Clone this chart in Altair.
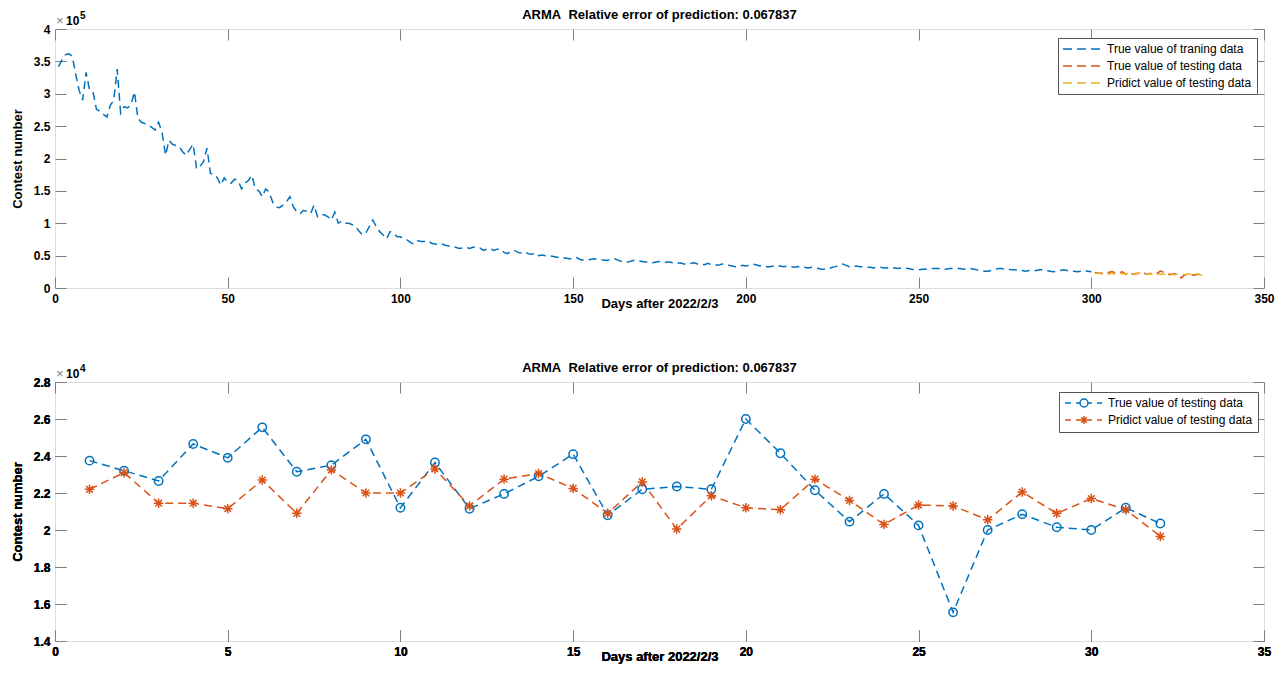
import altair as alt
import pandas as pd

# ---------------- data ----------------
SER_TRAIN = "True value of traning data"
SER_TEST = "True value of testing data"
SER_PRED = "Pridict value of testing data"

train_days = list(range(1, 301))
train_vals = [
    342000, 352000, 360000, 362000, 358000, 330000, 305000, 290000, 333000, 306000,
    303000, 276000, 273000, 268000, 264000, 282000, 290000, 338000, 270000, 280000,
    278000, 283000, 303000, 262000, 256000, 254000, 252000, 248000, 244000, 256000,
    240000, 205000, 228000, 222000, 220000, 218000, 210000, 205000, 214000, 222000,
    184000, 188000, 195000, 216000, 177000, 176000, 170000, 159000, 170000, 163000,
    162000, 168000, 166000, 153000, 162000, 166000, 174000, 153000, 150000, 141000,
    153000, 148000, 133000, 125000, 124000, 128000, 133000, 141000, 125000, 118000,
    115000, 120000, 118000, 115000, 128000, 110000, 113000, 113000, 110000, 105000,
    117000, 100000, 103000, 100000, 100000, 98000, 95000, 88000, 82000, 85000,
    95000, 105000, 95000, 87000, 82000, 76000, 87000, 85000, 79000, 79000,
    76000, 74000, 70000, 68000, 73000, 72000, 72000, 73000, 69000, 68000,
    67000, 68000, 66000, 65000, 64000, 63000, 61000, 62000, 63000, 61000,
    63000, 63000, 62000, 58000, 60000, 61000, 58000, 60000, 60000, 55000,
    53000, 57000, 58000, 55000, 54000, 56000, 53000, 52000, 54000, 50000,
    51000, 50000, 50000, 49000, 48000, 47000, 47000, 46000, 45000, 45000,
    47000, 44000, 43000, 43000, 44000, 45000, 44000, 44000, 43000, 43000,
    44000, 45000, 43000, 41000, 40000, 40000, 42000, 43000, 42000, 41000,
    40000, 40000, 39000, 40000, 41000, 39000, 40000, 40000, 39000, 38000,
    39000, 37000, 37000, 38000, 39000, 37000, 37000, 36000, 38000, 36000,
    36000, 35000, 37000, 36000, 35000, 34000, 33000, 33000, 35000, 34000,
    35000, 37000, 36000, 34000, 35000, 33000, 33000, 34000, 35000, 34000,
    33000, 34000, 33000, 32000, 33000, 32000, 32000, 31000, 32000, 31000,
    30000, 29000, 29000, 30000, 32000, 33000, 35000, 37000, 35000, 33000,
    33000, 34000, 33000, 33000, 32000, 32000, 31000, 32000, 32000, 31000,
    31000, 32000, 31000, 30000, 31000, 31000, 30000, 29000, 28000, 28000,
    29000, 29000, 30000, 30000, 30000, 30000, 30000, 29000, 30000, 30000,
    30000, 30000, 29000, 30000, 30000, 29000, 28000, 27000, 26000, 26000,
    27000, 28000, 30000, 30000, 29000, 29000, 28000, 28000, 27000, 27000,
    26000, 27000, 26000, 27000, 28000, 28000, 27000, 26000, 25000, 26000,
    27000, 28000, 27000, 26000, 26000, 25000, 26000, 27000, 26000, 25000,
]

test_idx = list(range(1, 33))
test_days_top = list(range(301, 333))
test_true = [23750, 23200, 22650, 24650, 23900, 25550, 23150, 23500, 24900, 21200,
             23650, 21150, 21950, 22900, 24100, 20800, 22200, 22350, 22200, 26000,
             24150, 22150, 20450, 21950, 20250, 15550, 20000, 20850, 20150, 20000,
             21200, 20350]
test_pred = [22200, 23100, 21450, 21450, 21150, 22700, 20900, 23250, 22000, 22000,
             23300, 21300, 22750, 23050, 22250, 20900, 22600, 20050, 21850, 21200,
             21100, 22750, 21600, 20300, 21350, 21300, 20550, 22050, 20900, 21700,
             21100, 19650]

x_ticks_top = [0, 50, 100, 150, 200, 250, 300, 350]
y_ticks_top = [0, 50000, 100000, 150000, 200000, 250000, 300000, 350000, 400000]
x_ticks_bot = [0, 5, 10, 15, 20, 25, 30, 35]
y_ticks_bot = [14000, 16000, 18000, 20000, 22000, 24000, 26000, 28000]

series_top = [SER_TRAIN, SER_TEST, SER_PRED]
colors_top = ["#0072BD", "#D95319", "#EDB120"]
series_bot = [SER_TEST, SER_PRED]
colors_bot = ["#0072BD", "#D95319"]

TITLE = "ARMA\u00a0 Relative error of prediction: 0.067837"

top_df = pd.concat([
    pd.DataFrame({"day": train_days, "value": train_vals, "series": SER_TRAIN}),
    pd.DataFrame({"day": test_days_top, "value": test_true, "series": SER_TEST}),
    pd.DataFrame({"day": test_days_top, "value": test_pred, "series": SER_PRED}),
], ignore_index=True)

bot_df = pd.DataFrame({
    "idx": test_idx + test_idx,
    "value": test_true + test_pred,
    "series": [SER_TEST] * len(test_idx) + [SER_PRED] * len(test_idx),
})

# ---------------- style ----------------
FONT = "Liberation Sans"
BOX = "#808080"
W, H = 1209, 259
DASH = [8, 5]

PATH_LEG_LINE = "M-6,0H3M8,0H17M22,0H31"
PATH_LEG_CIRC = "M-5,0H1M6,0H10M18,0H22M27,0H32M18,0A4,4 0 1,1 10,0A4,4 0 1,1 18,0"
PATH_LEG_STAR = "M-5,0H1M6,0H22M27,0H32M14,-4V4M11.2,-2.8L16.8,2.8M11.2,2.8L16.8,-2.8"
PATH_STAR = "M-1,0H1M0,-1V1M-0.7,-0.7L0.7,0.7M-0.7,0.7L0.7,-0.7"


def main_x(values, title):
    return alt.Axis(orient="bottom", values=values, tickSize=11, offset=-11, domain=False,
                    grid=False, labelFlush=False, labelOverlap=False, labelPadding=5,
                    labelFont=FONT, labelFontSize=12, labelFontWeight="bold", labelColor="black",
                    tickColor=BOX, tickWidth=1, title=title, titleFont=FONT, titleFontSize=13,
                    titleFontWeight="bold", titleColor="black", titlePadding=-7)


def main_y(values, expr, title):
    return alt.Axis(orient="left", values=values, tickSize=11, offset=-11, domain=False,
                    grid=False, labelOverlap=False, labelPadding=5, labelExpr=expr,
                    labelFont=FONT, labelFontSize=12, labelFontWeight="bold", labelColor="black",
                    tickColor=BOX, tickWidth=1, title=title, titleFont=FONT, titleFontSize=13,
                    titleFontWeight="bold", titleColor="black", titlePadding=9)


def sec_axis(orient, values):
    return alt.Axis(orient=orient, values=values, tickSize=11, offset=-11, domain=False,
                    grid=False, labels=False, tickColor=BOX, tickWidth=1, title=None)


def legend(sym, x, y, rowpad):
    return alt.Legend(title=None, orient="none", legendX=x, legendY=y, symbolType=sym,
                      symbolSize=4, symbolStrokeWidth=1.5, symbolFillColor="transparent",
                      symbolOpacity=1, labelFont=FONT, labelFontSize=12, labelColor="black",
                      labelOffset=32, padding=5, rowPadding=rowpad, fillColor="white",
                      strokeColor="#555555")


def exponent(exp):
    base = alt.Chart(alt.Data(values=[{"a": 0}]))
    t1 = base.mark_text(text="×", align="left", baseline="alphabetic", font=FONT,
                        fontSize=13, color="#808080").encode(x=alt.value(1), y=alt.value(-4))
    t2 = base.mark_text(text="10", align="left", baseline="alphabetic", font=FONT,
                        fontSize=12, fontWeight="bold", color="black").encode(x=alt.value(11), y=alt.value(-4))
    t3 = base.mark_text(text=exp, align="left", baseline="alphabetic", font=FONT,
                        fontSize=10, fontWeight="bold", color="black").encode(x=alt.value(25), y=alt.value(-10))
    return [t1, t2, t3]


title_params = alt.TitleParams(text=TITLE, font=FONT, fontSize=13, fontWeight="bold",
                               color="black", anchor="middle", offset=-11)

# ---------------- top panel ----------------
xs_top = alt.Scale(domain=[0, 350], nice=False)
ys_top = alt.Scale(domain=[0, 400000], nice=False)

line_top = alt.Chart(top_df).mark_line(strokeWidth=1.5).encode(
    x=alt.X("day:Q", scale=xs_top, axis=main_x(x_ticks_top, "Days after 2022/2/3")),
    y=alt.Y("value:Q", scale=ys_top, axis=main_y(y_ticks_top, "datum.value / 100000", "Contest number")),
    color=alt.Color("series:N", scale=alt.Scale(domain=series_top, range=colors_top),
                    legend=legend(PATH_LEG_LINE, 1003, 9, 5)),
    strokeDash=alt.value(DASH),
)
frame_top = alt.Chart(top_df).mark_point(opacity=0).encode(
    x=alt.X("day:Q", scale=xs_top, axis=sec_axis("top", x_ticks_top)),
    y=alt.Y("value:Q", scale=ys_top, axis=sec_axis("right", y_ticks_top)),
)
top = alt.layer(line_top, frame_top, *exponent("5")).resolve_axis(
    x="independent", y="independent").properties(width=W, height=H, title=title_params)

# ---------------- bottom panel ----------------
xs_bot = alt.Scale(domain=[0, 35], nice=False)
ys_bot = alt.Scale(domain=[14000, 28000], nice=False)
cs_bot = alt.Scale(domain=series_bot, range=colors_bot)
leg_b = legend(PATH_LEG_CIRC, 1004, 10, 3)

bx = alt.X("idx:Q", scale=xs_bot, axis=main_x(x_ticks_bot, "Days after 2022/2/3"))
by = alt.Y("value:Q", scale=ys_bot, axis=main_y(y_ticks_bot, "datum.value / 10000", "Contest number"))

leg_bot = alt.Chart(bot_df).mark_point(filled=False, strokeWidth=1.5, opacity=0).encode(
    x=alt.X("idx:Q", scale=xs_bot, axis=sec_axis("top", x_ticks_bot)),
    y=alt.Y("value:Q", scale=ys_bot, axis=sec_axis("right", y_ticks_bot)),
    color=alt.Color("series:N", scale=cs_bot, legend=leg_b),
    shape=alt.Shape("series:N", scale=alt.Scale(domain=series_bot, range=[PATH_LEG_CIRC, PATH_LEG_STAR]),
                    legend=leg_b),
)
line_bot = alt.Chart(bot_df).mark_line(strokeWidth=1.5).encode(
    x=bx, y=by, color=alt.Color("series:N", scale=cs_bot, legend=leg_b),
    strokeDash=alt.value(DASH),
)
circ_bot = alt.Chart(bot_df).transform_filter(alt.datum.series == SER_TEST).mark_point(
    filled=False, strokeWidth=1.5, size=70, opacity=1).encode(
    x=bx, y=by, color=alt.Color("series:N", scale=cs_bot, legend=leg_b),
    shape=alt.value("circle"),
)
star_bot = alt.Chart(bot_df).transform_filter(alt.datum.series == SER_PRED).mark_point(
    filled=False, strokeWidth=1.5, size=90, opacity=1).encode(
    x=bx, y=by, color=alt.Color("series:N", scale=cs_bot, legend=leg_b),
    shape=alt.value(PATH_STAR),
)
bottom = alt.layer(leg_bot, line_bot, circ_bot, star_bot, *exponent("4")).resolve_axis(
    x="independent", y="independent").properties(width=W, height=H, title=title_params)

chart = alt.vconcat(top, bottom, spacing=50).resolve_scale(
    color="independent", shape="independent"
).resolve_legend(
    color="independent", shape="independent"
).properties(
    padding={"left": 2, "top": 0, "right": 0, "bottom": 0}
).configure_view(stroke=BOX, strokeWidth=1).configure(background="white")

chart.save("out.html", embed_options={"renderer": "svg", "actions": False})
